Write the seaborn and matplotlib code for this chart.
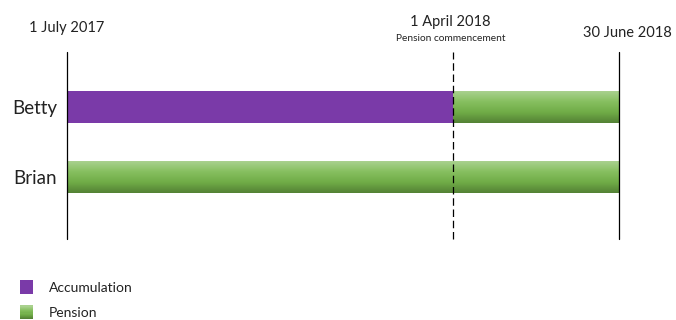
import numpy as np
import matplotlib
matplotlib.use('Agg')
import matplotlib.pyplot as plt
import seaborn as sns
from matplotlib.patches import Rectangle, Patch
from matplotlib.legend_handler import HandlerBase
from matplotlib.colors import LinearSegmentedColormap

# timeline in picture units: 0 = 1 July 2017, 100 = 30 June 2018
people = ['Betty', 'Brian']
pension_end = [100, 100]
accum_end = [70, 0]
marker_pos = [0, 70, 100]
marker_dates = ['1 July 2017', '1 April 2018', '30 June 2018']
marker_note = 'Pension commencement'
phases = ['Accumulation', 'Pension']

purple = '#7a3aa8'
green_cmap = LinearSegmentedColormap.from_list(
    'pension', ['#a9d18e', '#86bf5f', '#70ac47', '#548235'])

sns.set_style('white')
plt.rcParams['font.family'] = ['Lato', 'DejaVu Sans']

fig = plt.figure(figsize=(6.76, 3.2), dpi=100)
ax = fig.add_axes([67 / 676, 81 / 320, 552 / 676, 187 / 320])

sns.barplot(x=pension_end, y=people, color='#70ac47', width=0.457,
            saturation=1, errorbar=None, linewidth=0, ax=ax)
n_green = len(ax.patches)
sns.barplot(x=accum_end, y=people, color=purple, width=0.457,
            saturation=1, errorbar=None, linewidth=0, ax=ax)

grad = np.linspace(0, 1, 64).reshape(-1, 1)
for p in ax.patches[:n_green]:
    x0, y0, w, h = p.get_x(), p.get_y(), p.get_width(), p.get_height()
    im = ax.imshow(grad, cmap=green_cmap, aspect='auto', origin='upper',
                   extent=(x0, x0 + w, y0 + h, y0), zorder=1.2)
    im.set_clip_path(p)
for p in ax.patches[n_green:]:
    p.set_zorder(2)

ax.set_xlim(0, 100)
ax.set_ylim(1.886, -0.786)

for pos in marker_pos:
    if pos in (0, 100):
        ax.axvline(pos, color='black', lw=0.9, zorder=3, clip_on=False)
    else:
        ax.axvline(pos, color='black', lw=0.9, ls=(0, (6, 3)), zorder=3, clip_on=False)

sns.despine(ax=ax, left=True, bottom=True)
ax.set_xticks([])
ax.set_xlabel('')
ax.set_ylabel('')
ax.tick_params(axis='y', left=False, labelsize=13.5, pad=3.5, labelcolor='#222222')

# date labels above the timeline
label_y = [288, 294, 283]
label_dx = [0, -2, 6]
for pos, txt, yy, dx in zip(marker_pos, marker_dates, label_y, label_dx):
    ax.annotate(txt, xy=(pos, yy), xycoords=('data', 'figure pixels'),
                xytext=(dx, 0), textcoords='offset points',
                ha='center', va='baseline', fontsize=10.5, color='#222222',
                annotation_clip=False)
ax.annotate(marker_note, xy=(marker_pos[1], 279), xycoords=('data', 'figure pixels'),
            xytext=(-2, 0), textcoords='offset points',
            ha='center', va='baseline', fontsize=7.3, color='#222222',
            annotation_clip=False)


class GradientHandler(HandlerBase):
    def create_artists(self, legend, orig_handle, xdescent, ydescent,
                       width, height, fontsize, trans):
        n = 12
        arts = []
        for i in range(n):
            c = green_cmap(1 - i / (n - 1))
            r = Rectangle((-xdescent, -ydescent + height * i / n), width, height / n + 0.3,
                          facecolor=c, edgecolor='none', transform=trans)
            arts.append(r)
        return arts


handles = [Patch(facecolor=purple, edgecolor='none'), Patch(facecolor='#70ac47')]
fig.legend(handles, phases, loc='upper left', bbox_to_anchor=(20 / 676, 40 / 320),
           frameon=False, fontsize=10, handlelength=0.95, handleheight=1.15,
           handletextpad=1.1, labelspacing=0.85, borderpad=0, borderaxespad=0,
           labelcolor='#222222',
           handler_map={handles[1]: GradientHandler()})

fig.savefig('out.png', dpi=100)
